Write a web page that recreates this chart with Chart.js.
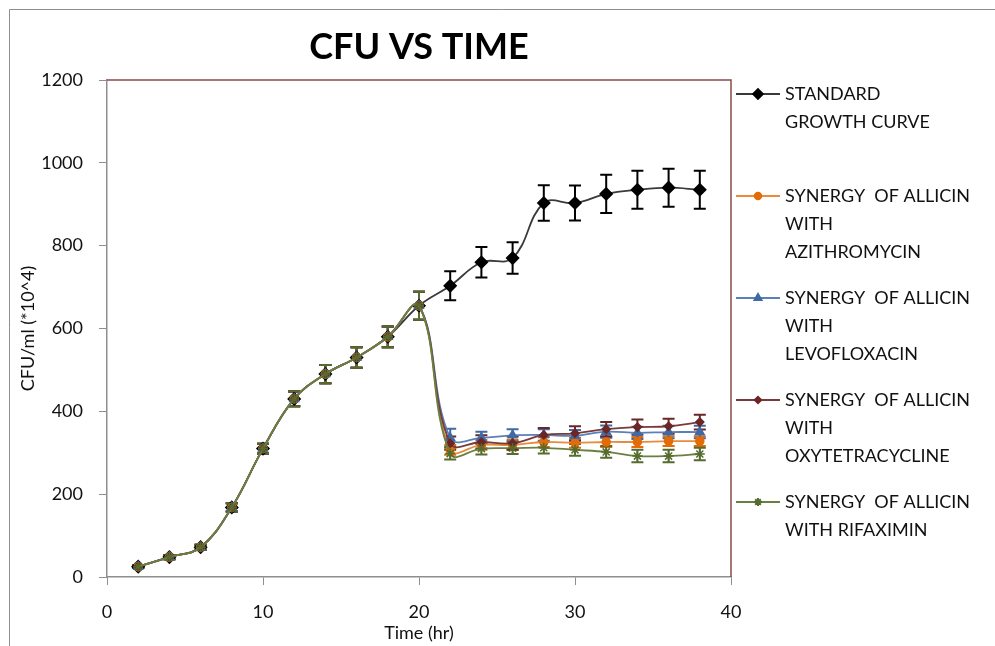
<!DOCTYPE html>
<html>
<head>
<meta charset="utf-8">
<script src="https://cdn.jsdelivr.net/npm/chart.js"></script>
<style>
  body { margin: 0; background: #fff; }
</style>
</head>
<body>
<canvas id="grafica" width="995" height="646"></canvas>
<script>
// tiempo en horas
const tiempo = [2, 4, 6, 8, 10, 12, 14, 16, 18, 20, 22, 24, 26, 28, 30, 32, 34, 36, 38];

// CFU/ml (*10^4)
const estandar     = [25, 48, 72, 168, 310, 430, 490, 530, 580, 655, 703, 760, 770, 903, 903, 925, 935, 940, 935];
const estandar_err = [3, 5, 6, 10, 12, 18, 22, 25, 25, 34, 35, 37, 38, 43, 42, 46, 46, 46, 46];

const azitro     = [25, 48, 72, 168, 310, 430, 490, 530, 580, 655, 307, 319, 319, 326, 324, 326, 326, 328, 328];
const azitro_err = [3, 5, 6, 10, 12, 18, 22, 25, 25, 34, 12, 12, 12, 12, 12, 12, 12, 12, 12];

const levo     = [25, 48, 72, 168, 310, 430, 490, 530, 580, 655, 336, 336, 342, 343, 341, 351, 348, 350, 350];
const levo_err = [3, 5, 6, 10, 12, 18, 22, 25, 25, 34, 22, 15, 15, 14, 14, 15, 15, 15, 15];

const oxi     = [25, 48, 72, 168, 310, 430, 490, 530, 580, 655, 323, 326, 323, 343, 347, 357, 362, 364, 374];
const oxi_err = [3, 5, 6, 10, 12, 18, 22, 25, 25, 34, 16, 16, 16, 17, 17, 17, 18, 18, 18];

const rifa     = [25, 48, 72, 168, 310, 430, 490, 530, 580, 655, 298, 310, 311, 312, 307, 302, 292, 292, 297];
const rifa_err = [3, 5, 6, 10, 12, 18, 22, 25, 25, 34, 14, 14, 14, 14, 14, 14, 15, 15, 15];

const etiquetas = [
  ['STANDARD', 'GROWTH CURVE'],
  ['SYNERGY  OF ALLICIN', 'WITH', 'AZITHROMYCIN'],
  ['SYNERGY  OF ALLICIN', 'WITH', 'LEVOFLOXACIN'],
  ['SYNERGY  OF ALLICIN', 'WITH', 'OXYTETRACYCLINE'],
  ['SYNERGY  OF ALLICIN', 'WITH RIFAXIMIN']
];

const fuente = 'Lato, "Open Sans", sans-serif';

function puntos(valores) {
  return valores.map(function(v, i) { return { x: tiempo[i], y: v }; });
}

const errores = [estandar_err, azitro_err, levo_err, oxi_err, rifa_err];

// barras de error
const barrasError = {
  id: 'barrasError',
  beforeDatasetsDraw(chart) {
    const ctx = chart.ctx;
    const y = chart.scales.y;
    ctx.save();
    chart.data.datasets.forEach(function(ds, i) {
      const meta = chart.getDatasetMeta(i);
      ctx.strokeStyle = ds.errColor;
      ctx.lineWidth = 2;
      meta.data.forEach(function(p, j) {
        const v = ds.data[j].y;
        const e = errores[i][j];
        const y1 = y.getPixelForValue(v + e);
        const y2 = y.getPixelForValue(v - e);
        ctx.beginPath();
        ctx.moveTo(p.x, y1); ctx.lineTo(p.x, y2);
        ctx.moveTo(p.x - 6, y1); ctx.lineTo(p.x + 6, y1);
        ctx.moveTo(p.x - 6, y2); ctx.lineTo(p.x + 6, y2);
        ctx.stroke();
      });
    });
    ctx.restore();
  }
};

// titulo, marco y leyenda
const adornos = {
  id: 'adornos',
  afterDraw(chart) {
    const ctx = chart.ctx;
    const a = chart.chartArea;
    ctx.save();

    ctx.strokeStyle = '#8e8e8e';
    ctx.lineWidth = 1;
    ctx.beginPath();
    ctx.moveTo(9.5, 646); ctx.lineTo(9.5, 9.5); ctx.lineTo(995, 9.5);
    ctx.stroke();

    ctx.strokeStyle = '#8a4b4b';
    ctx.lineWidth = 1.5;
    ctx.beginPath();
    ctx.moveTo(a.left, a.top); ctx.lineTo(a.right, a.top); ctx.lineTo(a.right, a.bottom);
    ctx.stroke();

    ctx.fillStyle = '#000';
    ctx.font = 'bold 36px ' + fuente;
    ctx.textAlign = 'center';
    ctx.textBaseline = 'middle';
    ctx.fillText('CFU VS TIME', (a.left + a.right) / 2, 47);

    ctx.font = '18px ' + fuente;
    ctx.textAlign = 'left';
    chart.data.datasets.forEach(function(ds, i) {
      const y0 = 94 + i * 102;
      ctx.strokeStyle = ds.borderColor;
      ctx.lineWidth = 2;
      ctx.beginPath();
      ctx.moveTo(736, y0); ctx.lineTo(780, y0);
      ctx.stroke();
      ctx.fillStyle = ds.pointBackgroundColor;
      ctx.strokeStyle = ds.pointBorderColor;
      Chart.helpers.drawPoint(ctx, {
        pointStyle: ds.pointStyle, radius: ds.pointRadius * 0.8,
        rotation: 0, borderWidth: ds.pointBorderWidth
      }, 758, y0);
      ctx.fillStyle = '#111';
      etiquetas[i].forEach(function(t, k) {
        ctx.fillText(t, 785, y0 + k * 28);
      });
    });
    ctx.restore();
  }
};

function serie(valores, lineColor, markColor, estilo, radio, orden) {
  return {
    data: puntos(valores),
    borderColor: lineColor,
    borderWidth: 1.8,
    pointStyle: estilo,
    pointRadius: radio,
    pointBackgroundColor: markColor,
    pointBorderColor: markColor,
    pointBorderWidth: 1.5,
    errColor: markColor,
    tension: 0.4,
    fill: false,
    order: orden
  };
}

new Chart(document.getElementById('grafica'), {
  type: 'line',
  data: {
    datasets: [
      serie(estandar, '#3a3a3a', '#000000', 'rectRot', 6, 5),
      serie(azitro, '#ec8a3c', '#e36c09', 'circle', 4, 4),
      serie(levo, '#5a80b8', '#3f6aa6', 'triangle', 5, 3),
      serie(oxi, '#7a3a3a', '#6b2626', 'rectRot', 4, 2),
      serie(rifa, '#6a8040', '#566b2e', 'star', 5, 1)
    ]
  },
  options: {
    responsive: false,
    animation: false,
    layout: { padding: { left: 0, top: 80, right: 264, bottom: 0 } },
    plugins: { legend: { display: false }, title: { display: false }, tooltip: { enabled: false } },
    scales: {
      x: {
        type: 'linear', min: 0, max: 40,
        ticks: { stepSize: 10, padding: 16, color: '#111', font: { family: fuente, size: 18 } },
        grid: { drawOnChartArea: false, drawTicks: true, tickLength: 8, color: '#8e8e8e' },
        border: { color: '#8e8e8e', width: 1.5 },
        title: { display: true, text: 'Time (hr)', color: '#111', padding: { top: 0, bottom: 2 }, font: { family: fuente, size: 18 } },
        afterFit: function(s) { s.height = 69; }
      },
      y: {
        min: 0, max: 1200,
        ticks: {
          stepSize: 200, padding: 16, color: '#111', font: { family: fuente, size: 18 },
          callback: function(v) { return String(v); }
        },
        grid: { drawOnChartArea: false, drawTicks: true, tickLength: 8, color: '#8e8e8e' },
        border: { color: '#8e8e8e', width: 1.5 },
        title: { display: true, text: 'CFU/ml (*10^4)', color: '#111', padding: { top: 17, bottom: 0 }, font: { family: fuente, size: 18 } },
        afterFit: function(s) { s.width = 107; }
      }
    }
  },
  plugins: [barrasError, adornos]
});
</script>
</body>
</html>
